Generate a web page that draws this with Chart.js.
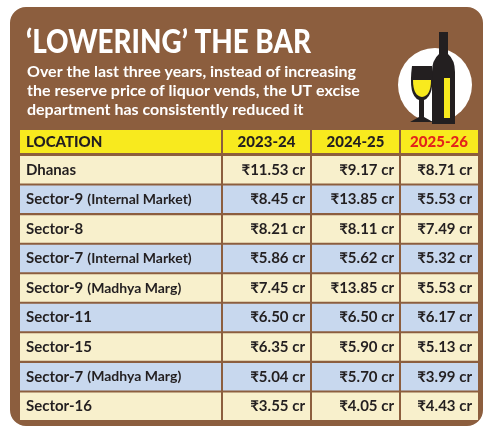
<!DOCTYPE html>
<html><head><meta charset="utf-8">
<script src="https://cdn.jsdelivr.net/npm/chart.js@4/dist/chart.umd.min.js"></script>
<style>html,body{margin:0;padding:0;background:#fff}canvas{display:block}</style>
</head><body>
<div style="width:492px;height:434px"><canvas id="c"></canvas></div>
<script>
const title = "\u2018LOWERING\u2019 THE BAR";
const subtitle = ["Over the last three years, instead of increasing",
  "the reserve price of liquor vends, the UT excise",
  "department has consistently reduced it"];
const columns = ["LOCATION", "2023-24", "2024-25", "2025-26"];
const locations = ["Dhanas", "Sector-9", "Sector-8", "Sector-7", "Sector-9", "Sector-11", "Sector-15", "Sector-7", "Sector-16"];
const qualifiers = ["", "(Internal Market)", "", "(Internal Market)", "(Madhya Marg)", "", "", "(Madhya Marg)", ""];
const v2023 = [11.53, 8.45, 8.21, 5.86, 7.45, 6.50, 6.35, 5.04, 3.55];
const v2024 = [9.17, 13.85, 8.11, 5.62, 13.85, 6.50, 5.90, 5.70, 4.05];
const v2025 = [8.71, 5.53, 7.49, 5.32, 5.53, 6.17, 5.13, 3.99, 4.43];

const BROWN = "#8c5e3e", CREAM = "#f8f0cc", BLUE = "#c8d8ee", YELLOW = "#f8ea1e", INK = "#231f20";
const F = "Lato, 'Noto Sans', 'DejaVu Sans', sans-serif";
const colEdges = [0, 202, 291, 380, 458];
const fmt = v => "\u20b9" + v.toFixed(2) + " cr";

const tablePlugin = {
  id: 'table',
  beforeDraw(chart) {
    const ctx = chart.ctx, x = chart.scales.x;
    ctx.save();
    ctx.fillStyle = BROWN;
    ctx.beginPath(); ctx.roundRect(10, 7, 473, 419, 16); ctx.closePath(); ctx.fill();
    ctx.fillStyle = "#fff";
    ctx.textBaseline = "alphabetic";
    ctx.font = "900 33px " + F;
    ctx.fillText(title, 26, 53, 285);
    ctx.font = "bold 16px " + F;
    subtitle.forEach((s, i) => ctx.fillText(s, 27, 77 + i * 19, i === 2 ? 298 : 352));
    // icon
    ctx.beginPath(); ctx.moveTo(472, 85); ctx.arc(435, 85, 37, 0, Math.PI * 2); ctx.closePath();
    ctx.fillStyle = "#ffffff"; ctx.fill();
    ctx.fillStyle = INK;
    ctx.beginPath();
    ctx.moveTo(432, 124); ctx.lineTo(432, 72); ctx.quadraticCurveTo(432, 60, 439, 54);
    ctx.lineTo(439, 32); ctx.lineTo(448, 32); ctx.lineTo(448, 54);
    ctx.quadraticCurveTo(455, 60, 455, 72); ctx.lineTo(455, 124); ctx.closePath(); ctx.fill();
    ctx.fillStyle = YELLOW; ctx.fillRect(444, 78, 6, 40);
    ctx.fillStyle = INK;
    ctx.beginPath(); ctx.moveTo(412, 66); ctx.lineTo(432, 66); ctx.quadraticCurveTo(435, 96, 424, 100);
    ctx.lineTo(424, 117); ctx.lineTo(433, 122); ctx.lineTo(410, 122); ctx.lineTo(419, 117);
    ctx.lineTo(419, 100); ctx.quadraticCurveTo(408, 96, 412, 66); ctx.closePath(); ctx.fill();
    ctx.fillStyle = YELLOW;
    ctx.beginPath(); ctx.moveTo(413, 80); ctx.lineTo(431, 80); ctx.quadraticCurveTo(431, 96, 422, 97); ctx.quadraticCurveTo(413, 96, 413, 80); ctx.closePath(); ctx.fill();
    // header
    const hTop = 130, hBot = 153;
    ctx.fillStyle = YELLOW;
    ctx.fillRect(x.getPixelForValue(0), hTop, x.getPixelForValue(458) - x.getPixelForValue(0), hBot - hTop);
    ctx.font = "900 15px " + F;
    ctx.textBaseline = "middle";
    columns.forEach((c, i) => {
      ctx.fillStyle = i === 3 ? "#e3231b" : INK;
      if (i === 0) { ctx.textAlign = "left"; ctx.fillText(c, x.getPixelForValue(6), 142); }
      else { ctx.textAlign = "center"; ctx.fillText(c, x.getPixelForValue((colEdges[i] + colEdges[i + 1]) / 2), 142); }
    });
    ctx.restore();
  },
  afterDatasetsDraw(chart) {
    const ctx = chart.ctx, x = chart.scales.x, y = chart.scales.y;
    ctx.save();
    ctx.fillStyle = BROWN;
    [1, 2, 3].forEach(i => ctx.fillRect(x.getPixelForValue(colEdges[i]) - 1, 128, 2, 296));
    ctx.textBaseline = "middle";
    ctx.fillStyle = INK;
    locations.forEach((loc, i) => {
      const py = y.getPixelForValue(i);
      ctx.textAlign = "left";
      ctx.font = "bold 15px " + F;
      const lx = x.getPixelForValue(6);
      ctx.fillText(loc, lx, py);
      if (qualifiers[i]) {
        const w = ctx.measureText(loc).width;
        ctx.font = "bold 14px " + F;
        ctx.fillText(qualifiers[i], lx + w + 4, py, 196 - w - 4);
      }
      ctx.font = "bold 15px " + F;
      ctx.textAlign = "right";
      [v2023, v2024, v2025].forEach((arr, j) => {
        ctx.fillText(fmt(arr[i]), x.getPixelForValue(colEdges[j + 2] - 6), py);
      });
    });
    ctx.restore();
  }
};

new Chart(document.getElementById('c'), {
  type: 'bar',
  data: {
    labels: locations.map((l, i) => l + (qualifiers[i] ? " " + qualifiers[i] : "")),
    datasets: [{
      data: locations.map(() => [0, 458]),
      backgroundColor: locations.map((_, i) => i % 2 ? BLUE : CREAM),
      borderWidth: 0, barPercentage: 1, categoryPercentage: 0.93, grouped: false
    }]
  },
  options: {
    indexAxis: 'y', responsive: true, maintainAspectRatio: false, animation: false,
    layout: { padding: { left: 20, right: 14, top: 155, bottom: 13 } },
    plugins: { legend: { display: false }, tooltip: { enabled: false } },
    scales: {
      x: { display: false, min: 0, max: 458 },
      y: { display: false }
    }
  },
  plugins: [tablePlugin]
});
</script>
</body></html>
